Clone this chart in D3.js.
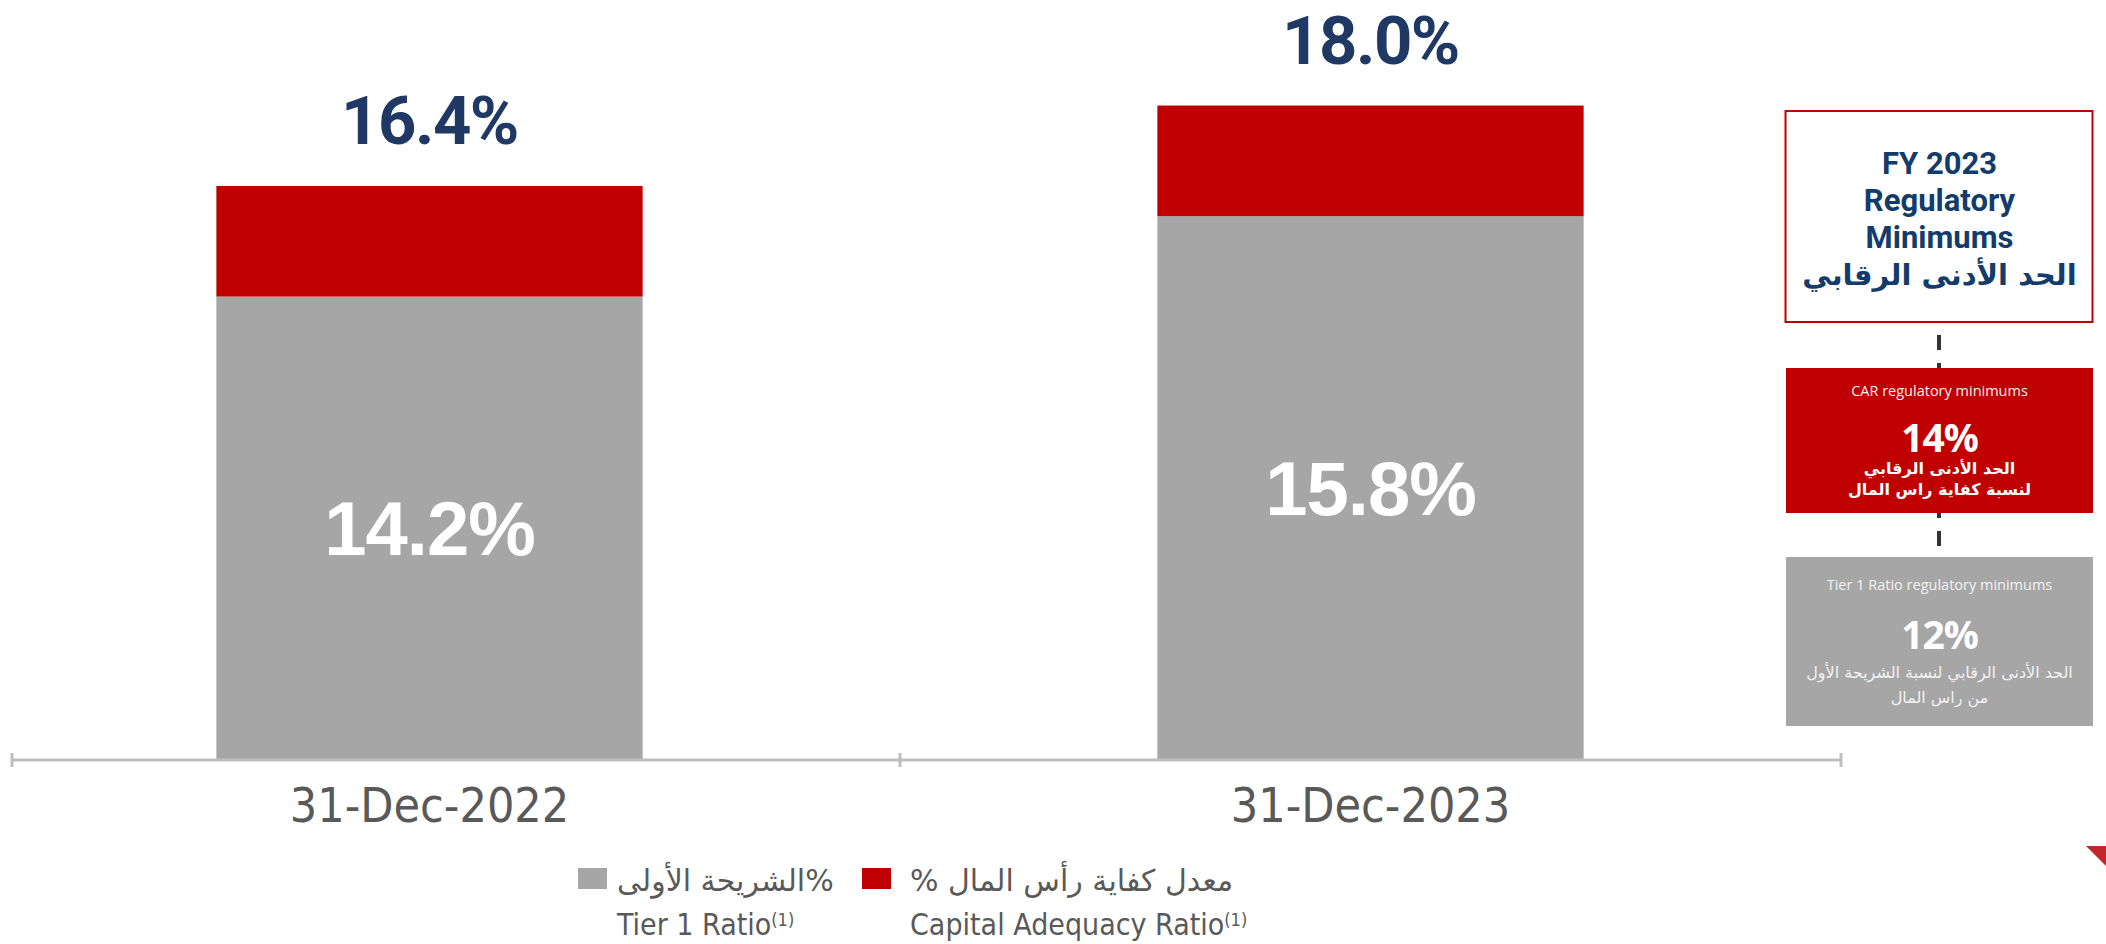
<!DOCTYPE html>
<html><head><meta charset="utf-8">
<script src="https://cdn.jsdelivr.net/npm/d3@7"></script>
<style>
html,body{margin:0;padding:0;background:#fff;}
svg{display:block;}
</style></head>
<body>
<svg id="chart" width="2106" height="944"></svg>
<script>
// ---- data ----
const categories = ["31-Dec-2022", "31-Dec-2023"];
const tier1Ratio = [14.2, 15.8];
const capitalAdequacyRatio = [16.4, 18.0];
const yDomain = [5, 20];
const legendArabic = ["%الشريحة الأولى", "معدل كفاية رأس المال %"];
const legendEnglish = ["Tier 1 Ratio", "Capital Adequacy Ratio"];
const panelTitle = ["FY 2023", "Regulatory", "Minimums", "الحد الأدنى الرقابي"];
const minimumNames = ["CAR regulatory minimums", "Tier 1 Ratio regulatory minimums"];
const minimumValues = [14, 12];
const minimumArabic = [["الحد الأدنى الرقابي", "لنسبة كفاية راس المال"], ["الحد الأدنى الرقابي لنسبة الشريحة الأول", "من راس المال"]];

const RED = "#C00000", GRAY = "#A6A6A6", NAVY = "#1F3864", TXT = "#595959";
const svg = d3.select("#chart");

// table for stacking
const table = categories.map((c, i) => ({cat: c, tier1: tier1Ratio[i], extra: capitalAdequacyRatio[i] - tier1Ratio[i], total: capitalAdequacyRatio[i]}));
const stack = d3.stack().keys(["tier1", "extra"]).value((d, k) => k === "tier1" ? d.tier1 - yDomain[0] : d.extra);
const series = stack(table);

const x = d3.scaleBand().domain(categories).range([-41, 1841]).paddingInner(0.547).paddingOuter(0.2735);
const y = d3.scaleLinear().domain([0, yDomain[1] - yDomain[0]]).range([759, 5]);
const colors = {tier1: GRAY, extra: RED};

svg.append("g").selectAll("g").data(series).join("g")
  .attr("fill", s => colors[s.key])
  .selectAll("rect").data(s => s).join("rect")
  .attr("x", d => x(d.data.cat))
  .attr("width", x.bandwidth())
  .attr("y", d => y(d[1]))
  .attr("height", d => y(d[0]) - y(d[1]));

// axis line with boundary ticks
const axisY = 760;
const ticks = [12, x(categories[1]) - x.step() * x.paddingInner() / 2, 1841];
const ag = svg.append("g");
ag.append("line").attr("x1", 12).attr("x2", 1841).attr("y1", axisY).attr("y2", axisY)
  .attr("stroke", "#BFBFBF").attr("stroke-width", 3);
ag.selectAll("line.t").data(ticks).join("line").attr("class", "t")
  .attr("x1", d => d).attr("x2", d => d).attr("y1", axisY - 7).attr("y2", axisY + 7)
  .attr("stroke", "#BFBFBF").attr("stroke-width", 3);
ag.selectAll("text").data(categories).join("text")
  .attr("x", d => x(d) + x.bandwidth() / 2).attr("y", 822)
  .attr("text-anchor", "middle")
  .style("font-family", "'Liberation Sans Narrow','DejaVu Sans Condensed',sans-serif")
  .style("font-size", "48px").attr("fill", TXT).text(d => d);

// total labels
svg.append("g").selectAll("text").data(table).join("text")
  .attr("x", d => x(d.cat) + x.bandwidth() / 2)
  .attr("y", d => y(d.total - yDomain[0]) - 42)
  .attr("text-anchor", "middle")
  .style("font-family", "Roboto,'Open Sans',sans-serif").style("font-weight", 700)
  .style("font-size", "67px").style("letter-spacing", "-1.5px")
  .attr("fill", NAVY).text(d => d.total.toFixed(1) + "%");

// inner labels
svg.append("g").selectAll("text").data(table).join("text")
  .attr("x", d => x(d.cat) + x.bandwidth() / 2)
  .attr("y", d => (y(0) + y(d.tier1 - yDomain[0])) / 2 + 27)
  .attr("text-anchor", "middle")
  .style("font-family", "'Liberation Sans',Arial,sans-serif").style("font-weight", 700)
  .style("font-size", "76px").style("letter-spacing", "-1px")
  .attr("fill", "#fff").text(d => d.tier1.toFixed(1) + "%");

// legend
const legColors = [GRAY, RED];
const legX = [617, 910];
const legSq = [578, 862];
const lg = svg.append("g");
legColors.forEach((c, i) => {
  lg.append("rect").attr("x", legSq[i]).attr("y", 868).attr("width", 29).attr("height", 21).attr("fill", c);
  lg.append("text").attr("x", legX[i]).attr("y", 891)
    .attr("direction", "rtl").style("direction", "rtl").style("unicode-bidi", "embed")
    .attr("text-anchor", "end")
    .style("font-family", "'DejaVu Sans',sans-serif").style("font-size", "30px")
    .attr("fill", TXT).text(legendArabic[i]);
  const t = lg.append("text").attr("x", legX[i]).attr("y", 935)
    .style("font-family", "'Liberation Sans Narrow','DejaVu Sans Condensed',sans-serif")
    .style("font-size", "30px").attr("fill", TXT);
  t.append("tspan").text(legendEnglish[i]);
  t.append("tspan").attr("dy", -9).style("font-size", "18px").text("(1)");
});

// right panel
const px = 1786, pw = 307, pcx = px + pw / 2;
const rp = svg.append("g");
rp.append("line").attr("x1", pcx - 0.5).attr("x2", pcx - 0.5).attr("y1", 322).attr("y2", 557)
  .attr("stroke", "#333").attr("stroke-width", 4)
  .attr("stroke-dasharray", "15 13").attr("stroke-dashoffset", 15);
rp.append("rect").attr("x", px - 0.5).attr("y", 111).attr("width", pw).attr("height", 211)
  .attr("fill", "#fff").attr("stroke", RED).attr("stroke-width", 2);
const titleY = [174, 211, 248, 285];
panelTitle.forEach((t, i) => {
  rp.append("text").attr("x", pcx).attr("y", titleY[i]).attr("text-anchor", "middle")
    .style("font-family", i === 3 ? "'DejaVu Sans',sans-serif" : "Roboto,sans-serif")
    .style("font-weight", 700).style("font-size", i === 3 ? "29px" : "31px")
    .attr("fill", "#133B6B").text(t);
});

const boxes = [{y: 368, h: 145, fill: RED}, {y: 557, h: 169, fill: GRAY}];
boxes.forEach((b, i) => {
  rp.append("rect").attr("x", px).attr("y", b.y).attr("width", pw).attr("height", b.h).attr("fill", b.fill);
  rp.append("text").attr("x", pcx).attr("y", b.y + (i === 0 ? 28 : 33)).attr("text-anchor", "middle")
    .style("font-family", "'Open Sans',sans-serif").style("font-size", "14.5px")
    .attr("fill", "#F2F2F2").text(minimumNames[i]);
  rp.append("text").attr("x", pcx).attr("y", b.y + (i === 0 ? 84 : 92)).attr("text-anchor", "middle")
    .style("font-family", "'Open Sans',sans-serif").style("font-weight", 700).style("font-size", "39px")
    .style("letter-spacing", "-1px").attr("fill", "#fff").text(minimumValues[i] + "%");
  minimumArabic[i].forEach((line, j) => {
    rp.append("text").attr("x", pcx).attr("y", b.y + (i === 0 ? 106 + j * 21 : 121 + j * 25))
      .attr("text-anchor", "middle").attr("direction", "rtl")
      .style("font-family", "'DejaVu Sans',sans-serif").style("font-weight", i === 0 ? 700 : 400)
      .style("font-size", "16px")
      .attr("fill", i === 0 ? "#fff" : "#F2F2F2").text(line);
  });
});

// decorative corner triangle
svg.append("path").attr("d", d3.line()([[2086, 846], [2106, 846], [2106, 866]]) + "Z").attr("fill", "#C1272D");
</script>
</body></html>
